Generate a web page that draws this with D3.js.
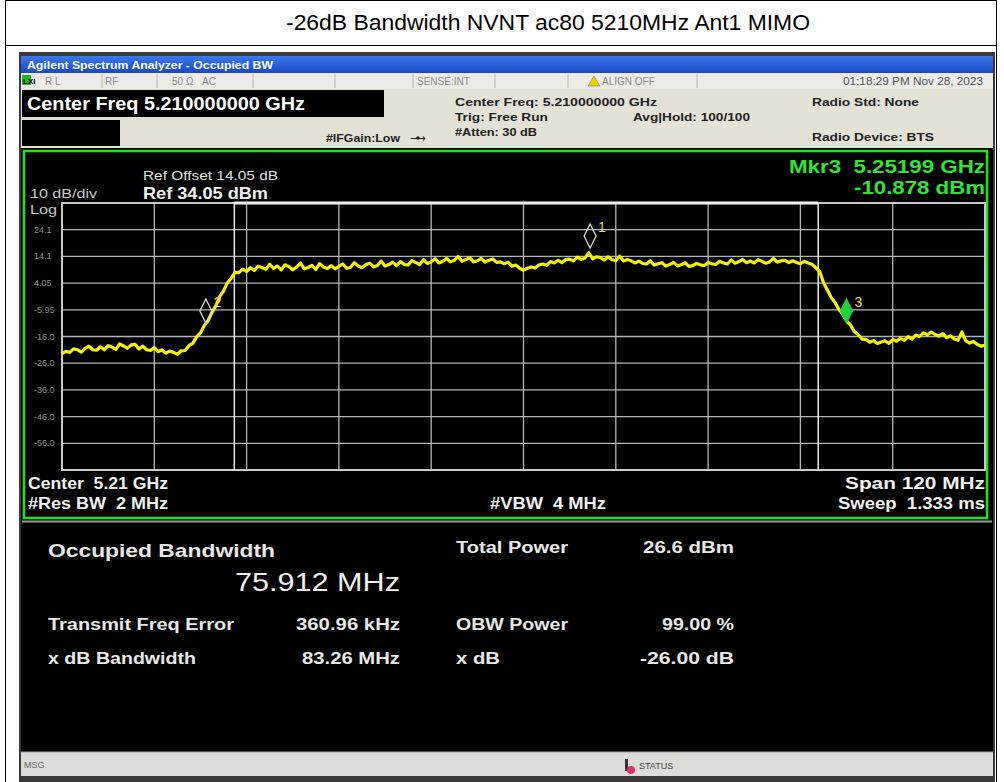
<!DOCTYPE html>
<html><head><meta charset="utf-8">
<script src="https://cdn.jsdelivr.net/npm/d3@7"></script>
<style>body{margin:0;background:#fff}svg{display:block}text{font-family:"Liberation Sans",Arial,sans-serif;white-space:pre}</style>
</head><body><svg id="c" width="1004" height="782"></svg>
<script>
// ---------- data ----------
const chartTitle = "-26dB Bandwidth NVNT ac80 5210MHz Ant1 MIMO";
const startFreqMHz = 5150, stopFreqMHz = 5270, stepMHz = 0.5;
const refLevel = 34.05, dbPerDiv = 10, numDivs = 10;
const yTickLabels = ["24.1","14.1","4.05","-5.95","-16.0","-26.0","-36.0","-46.0","-56.0"];
// trace amplitudes (dBm), one per 0.5 MHz from 5150 to 5270 MHz
const traceDbm = [
-22.4,-21.5,-21.9,-20.6,-20.9,-21.8,-20.4,-19.6,-20.9,-21.1,
-19.8,-20.9,-19.4,-19.9,-20.8,-18.7,-19.5,-20.4,-19.1,-18.9,
-20.6,-19.6,-20.9,-21.2,-20.1,-21.6,-21.0,-22.2,-21.4,-21.9,
-22.6,-21.3,-21.2,-19.4,-18.5,-16.1,-14.6,-11.8,-10.0,-6.9,
-4.5,-1.0,1.1,4.2,5.9,8.1,8.0,9.3,8.4,9.8,
8.8,10.4,9.9,9.2,11.1,9.6,10.4,9.0,10.9,10.2,
9.1,10.0,11.6,9.4,9.9,10.7,9.2,11.3,10.1,9.5,
10.6,9.4,10.3,11.2,9.6,9.9,11.7,10.5,9.8,10.9,
11.5,10.1,10.6,12.3,10.4,11.0,11.9,10.6,12.1,11.0,
10.9,12.5,11.7,11.0,12.8,11.4,12.0,13.2,11.6,12.2,
13.3,12.0,12.6,14.0,12.2,12.9,13.6,12.0,12.4,13.3,
11.9,12.6,13.1,11.8,12.0,11.3,11.9,10.4,10.8,9.6,
8.9,9.6,10.1,9.7,10.8,11.2,10.7,12.1,11.6,12.6,
11.7,12.9,13.0,12.4,13.8,12.9,13.5,15.4,13.1,13.9,
13.6,12.7,13.9,12.8,12.5,14.1,12.3,12.9,12.4,11.6,
12.3,11.4,11.2,12.4,10.8,11.3,11.7,10.4,11.0,11.8,
10.5,10.9,11.7,10.3,10.6,11.4,10.9,10.6,11.8,11.3,
11.0,12.2,11.6,11.2,12.7,11.5,12.1,12.9,11.7,12.3,
11.6,12.8,12.2,11.5,12.0,13.3,11.9,12.4,12.6,11.7,
12.4,11.8,11.3,12.2,11.6,11.1,9.8,8.5,4.3,1.5,
-1.3,-3.2,-5.8,-7.5,-10.1,-11.6,-14.1,-15.2,-16.9,-17.0,
-18.1,-17.5,-18.6,-18.0,-17.6,-18.5,-17.1,-17.7,-16.6,-17.4,
-16.0,-16.9,-15.4,-15.9,-14.6,-15.3,-14.3,-15.2,-15.8,-14.9,
-16.4,-15.7,-16.9,-17.3,-14.2,-17.6,-18.4,-17.8,-18.9,-19.6,
-19.1];
const markerIds = ["1","2","3"];
const markerFreqMHz = [5218.66, 5168.7, 5251.99];
const markerDbm = [17.2, -10.9, -10.878];
const obwMHz = 75.912, freqErrMHz = 0.36096, centerMHz = 5210;
const statusItems = ["R L","RF","50 Ω","AC","SENSE:INT","ALIGN OFF"];
const resultLabelsL = ["Transmit Freq Error","x dB Bandwidth"];
const resultValuesL = ["360.96 kHz","83.26 MHz"];
const resultLabelsR = ["Total Power","OBW Power","x dB"];
const resultValuesR = ["26.6 dBm","99.00 %","-26.00 dB"];

// ---------- drawing ----------
const svg = d3.select("#c");
function txt(x, y, s, o) {
  o = o || {};
  const t = svg.append("text").attr("x", x).attr("y", y).attr("font-size", o.size || 12)
    .attr("fill", o.fill || "#000").attr("text-anchor", o.anchor || "start").text(s);
  if (o.bold) t.attr("font-weight", "bold");
  if (o.len) t.attr("textLength", o.len).attr("lengthAdjust", "spacingAndGlyphs");
  return t;
}
const defs = svg.append("defs");
const g1 = defs.append("linearGradient").attr("id","tb").attr("x1",0).attr("y1",0).attr("x2",0).attr("y2",1);
g1.append("stop").attr("offset","0%").attr("stop-color","#3c78ee");
g1.append("stop").attr("offset","100%").attr("stop-color","#1848c8");

svg.append("rect").attr("width",1004).attr("height",782).attr("fill","#fff");
svg.append("rect").attr("x",5.5).attr("y",0.5).attr("width",991).attr("height",790).attr("fill","none").attr("stroke","#000");
svg.append("line").attr("x1",5).attr("x2",997).attr("y1",45.5).attr("y2",45.5).attr("stroke","#000");
txt(548, 30, chartTitle, {size: 22, anchor: "middle", len: 524});

// screenshot frame
svg.append("rect").attr("x",19).attr("y",52).attr("width",976).attr("height",730).attr("fill","#3a3a3a");
svg.append("rect").attr("x",21).attr("y",56).attr("width",972).attr("height",17).attr("fill","url(#tb)");
txt(27, 69, "Agilent Spectrum Analyzer - Occupied BW", {size: 11, bold: true, fill: "#fff", len: 246});
// status row
svg.append("rect").attr("x",21).attr("y",73).attr("width",972).attr("height",16).attr("fill","#ecebe6");
[102,157,253,335,413,495,568,697].forEach(x=>svg.append("line").attr("x1",x).attr("x2",x).attr("y1",74).attr("y2",88).attr("stroke","#b8b6ae"));
svg.append("rect").attr("x",22).attr("y",75).attr("width",9).attr("height",10).attr("fill","#1fb51f");
txt(23, 84, "LXI", {size: 8, bold: true});
const stX = [45,105,172,202,417,602];
statusItems.forEach((s,i)=>txt(stX[i], 85, s, {size: 10, fill: "#8c8a84"}));
svg.append("path").attr("d","M588,86 L594,76 L600,86 Z").attr("fill","#e8d400").attr("stroke","#777").attr("stroke-width",0.6);
txt(983, 85, "01:18:29 PM Nov 28, 2023", {size: 10, fill: "#555", anchor: "end", len: 140});
// settings panel
svg.append("rect").attr("x",21).attr("y",89).attr("width",972).attr("height",59).attr("fill","#e4e1d6");
svg.append("rect").attr("x",22).attr("y",90).attr("width",362).attr("height",27).attr("fill","#000");
txt(27, 110, "Center Freq 5.210000000 GHz", {size: 18, bold: true, fill: "#fff", len: 278});
svg.append("rect").attr("x",22).attr("y",120).attr("width",98).attr("height",26).attr("fill","#000");
txt(326, 142, "#IFGain:Low", {size: 10, bold: true, fill: "#222", len: 74});
txt(410, 142, "⟶", {size: 11, fill: "#222"});
svg.append("circle").attr("cx",418).attr("cy",138).attr("r",1.8).attr("fill","#222");
const setTxt = [["Center Freq: 5.210000000 GHz",455,106,202],["Trig: Free Run",455,121,93],["#Atten: 30 dB",455,136,82],["Avg|Hold: 100/100",633,121,117],["Radio Std: None",812,106,107],["Radio Device: BTS",812,141,122]];
setTxt.forEach(d=>txt(d[1], d[2], d[0], {size: 11.5, bold: true, fill: "#222", len: d[3]}));

// graph area
svg.append("rect").attr("x",21).attr("y",148).attr("width",972).attr("height",604).attr("fill","#000");
svg.append("rect").attr("x",24).attr("y",151).attr("width",963).attr("height",367).attr("fill","#000").attr("stroke","#19e619").attr("stroke-width",2.5);
svg.append("line").attr("x1",22).attr("x2",992).attr("y1",521.5).attr("y2",521.5).attr("stroke","#9a9a9a").attr("stroke-width",2);

const x = d3.scaleLinear().domain([startFreqMHz, stopFreqMHz]).range([62, 985]);
const y = d3.scaleLinear().domain([refLevel - dbPerDiv*numDivs, refLevel]).range([470, 203]);

const gridG = svg.append("g");
const xTicks = d3.range(0, numDivs+1).map(i => startFreqMHz + i*(stopFreqMHz-startFreqMHz)/numDivs);
const yTicks = d3.range(0, numDivs+1).map(i => refLevel - i*dbPerDiv);
gridG.selectAll(".vx").data(xTicks).join("line").attr("x1",d=>x(d)).attr("x2",d=>x(d)).attr("y1",y.range()[1]).attr("y2",y.range()[0]).attr("stroke","#b4b4b4").attr("stroke-width",1.3);
gridG.selectAll(".hy").data(yTicks).join("line").attr("x1",x.range()[0]).attr("x2",x.range()[1]).attr("y1",d=>y(d)).attr("y2",d=>y(d)).attr("stroke","#b4b4b4").attr("stroke-width",1.3);
gridG.append("rect").attr("x",x.range()[0]).attr("y",y.range()[1]).attr("width",x.range()[1]-x.range()[0]).attr("height",y.range()[0]-y.range()[1]).attr("fill","none").attr("stroke","#c8c8c8").attr("stroke-width",2);

// OBW lines
const obwL = centerMHz + freqErrMHz - obwMHz/2, obwR = centerMHz + freqErrMHz + obwMHz/2;
[obwL, obwR].forEach(f=>svg.append("line").attr("x1",x(f)).attr("x2",x(f)).attr("y1",y.range()[1]).attr("y2",y.range()[0]).attr("stroke","#e8e8e8").attr("stroke-width",1.5));
svg.append("line").attr("x1",x(obwL)).attr("x2",x(obwR)).attr("y1",y(refLevel)).attr("y2",y(refLevel)).attr("stroke","#f0f0f0").attr("stroke-width",3);

// y labels
svg.selectAll(".yl").data(yTickLabels).join("text").attr("x",34).attr("y",(d,i)=>y(yTicks[i+1])+3).attr("font-size",9).attr("fill","#8e8e8e").text(d=>d);
txt(30, 198, "10 dB/div", {size: 13, fill: "#c8c8c8", len: 67});
txt(30, 214, "Log", {size: 13, fill: "#c8c8c8", len: 27});
txt(143, 180, "Ref Offset 14.05 dB", {size: 13.5, fill: "#e0e0e0", len: 135});
txt(143, 199, "Ref 34.05 dBm", {size: 17, bold: true, fill: "#f0f0f0", len: 125});
txt(985, 173, "Mkr3  5.25199 GHz", {size: 19, bold: true, fill: "#2ee62e", anchor: "end", len: 196});
txt(985, 194, "-10.878 dBm", {size: 19, bold: true, fill: "#2ee62e", anchor: "end", len: 131});

// trace
const trace = traceDbm.map((v,i)=>({f: startFreqMHz + i*stepMHz, v}));
svg.append("path").datum(trace).attr("fill","none").attr("stroke","#f4f400").attr("stroke-width",3.2).attr("stroke-linejoin","round")
  .attr("d", d3.line().x(d=>x(d.f)).y(d=>y(d.v)));

// markers
const mk = markerIds.map((id,i)=>({id, f: markerFreqMHz[i], v: markerDbm[i]}));
mk.forEach((m,i)=>{
  const cx = x(m.f), cy = y(m.v) - 12;
  const active = i === 2;
  svg.append("path").attr("d",`M${cx},${cy-12} L${cx+6},${cy} L${cx},${cy+12} L${cx-6},${cy} Z`)
    .attr("fill", active ? "#20d040" : "none").attr("stroke", active ? "#20d040" : "#d8d8d8").attr("stroke-width",1.3);
  txt(cx+8, cy-4, m.id, {size: 14, fill: "#e8e030"});
});

// bottom annotations
const bt = [["Center  5.21 GHz",28,489,"start",140],["#Res BW  2 MHz",28,509,"start",140],["#VBW  4 MHz",490,509,"start",116],["Span 120 MHz",985,489,"end",140],["Sweep  1.333 ms",985,509,"end",147]];
bt.forEach(d=>txt(d[1], d[2], d[0], {size: 16, bold: true, fill: "#f0f0f0", anchor: d[3], len: d[4]}));

// results
txt(48, 557, "Occupied Bandwidth", {size: 19, bold: true, fill: "#e8e8e8", len: 227});
txt(400, 591, "75.912 MHz", {size: 26, fill: "#f0f0f0", anchor: "end", len: 165});
const lLen = [186, 148], lvLen = [104, 98];
resultLabelsL.forEach((s,i)=>{
  txt(48, 630+i*34, s, {size: 16, bold: true, fill: "#e8e8e8", len: lLen[i]});
  txt(400, 630+i*34, resultValuesL[i], {size: 16, bold: true, fill: "#e8e8e8", anchor: "end", len: lvLen[i]});
});
const rY = [553, 630, 664], rLen = [112, 112, 44], rvLen = [91, 72, 94];
resultLabelsR.forEach((s,i)=>{
  txt(456, rY[i], s, {size: 16, bold: true, fill: "#e8e8e8", len: rLen[i]});
  txt(734, rY[i], resultValuesR[i], {size: 16, bold: true, fill: "#e8e8e8", anchor: "end", len: rvLen[i]});
});

// message bar
svg.append("rect").attr("x",21).attr("y",752).attr("width",972).attr("height",24).attr("fill","#dcdcd8");
svg.append("line").attr("x1",21).attr("x2",993).attr("y1",752).attr("y2",752).attr("stroke","#9a9a9a");
txt(24, 768, "MSG", {size: 9, fill: "#666"});
svg.append("rect").attr("x",625).attr("y",759).attr("width",3).attr("height",12).attr("fill","#333");
svg.append("circle").attr("cx",631).attr("cy",770).attr("r",4).attr("fill","#e0306a");
txt(639, 769, "STATUS", {size: 9, fill: "#444"});
</script></body></html>
